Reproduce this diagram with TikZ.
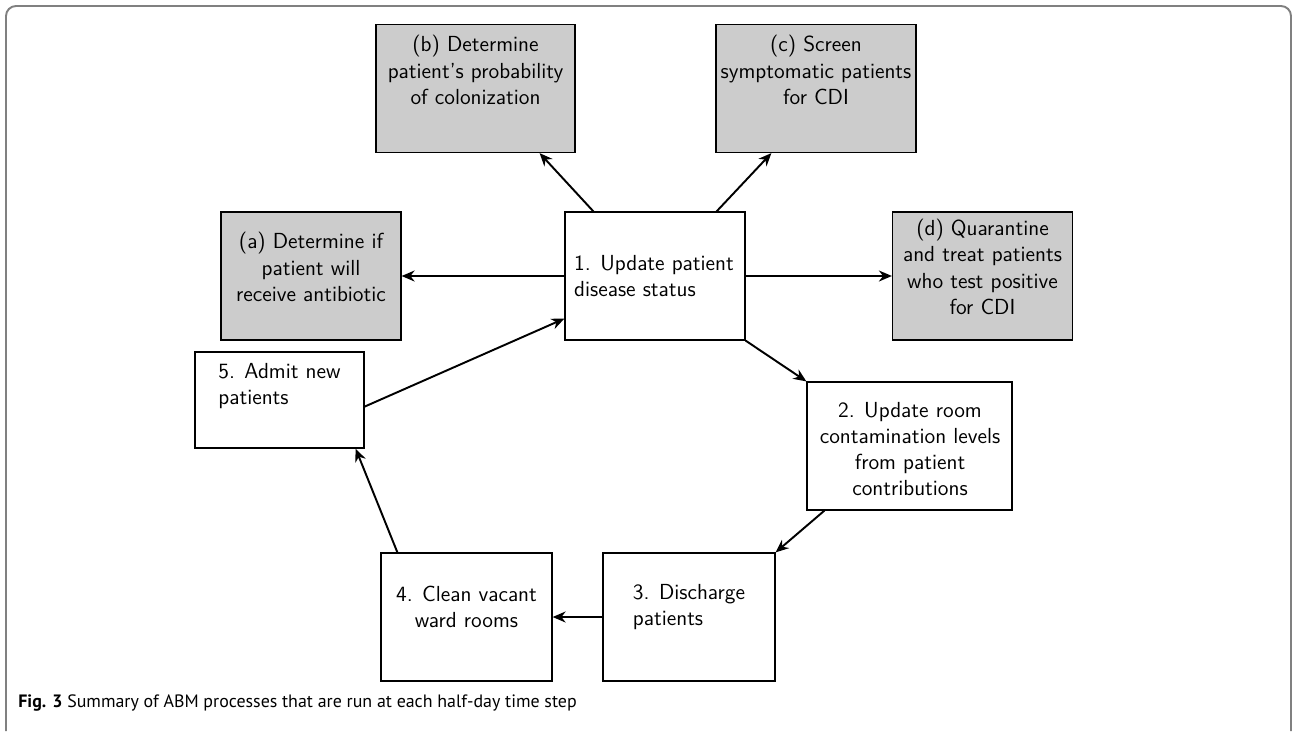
\documentclass[tikz,border=0pt]{standalone}
\usepackage{fontspec}
\usetikzlibrary{calc,arrows.meta}
\newfontfamily\capfont{PT Sans}

\tikzset{
  box/.style={draw,line width=0.7pt,minimum width=180*0.02cm,minimum height=128*0.02cm},
  grey/.style={box,fill=black!20},
  txt/.style={inner sep=0pt,font=\fontsize{12.4}{14.9}\selectfont\sffamily},
  arr/.style={-{Stealth[length=2.6mm,width=2.2mm]},line width=1.1pt}
}

\begin{document}
\begin{tikzpicture}[x=0.02cm,y=-0.02cm]
\useasboundingbox (0,0) rectangle (1292,731);
\draw[gray,line width=1.1pt,rounded corners=0.2cm] (6,731) -- (6,6) -- (1291,6) -- (1291,731);

% boxes
\node[grey,minimum width=199*0.02cm] (b) at (475.5,88.5) {};
\node[grey,minimum width=200*0.02cm] (c) at (816,88.5) {};
\node[grey] (a) at (311,276) {};
\node[box] (one) at (655,276) {};
\node[grey] (d) at (982.5,276) {};
\node[box,minimum width=205*0.02cm] (two) at (909.5,446) {};
\node[box,minimum width=169*0.02cm,minimum height=96*0.02cm] (five) at (279.5,400) {};
\node[box,minimum width=172*0.02cm] (three) at (689,617) {};
\node[box,minimum width=171*0.02cm] (four) at (466.5,617) {};

% texts
\node[txt,align=center] (bt) at (475.5,70) {(b) Determine\\patient's probability\\of colonization};
\node[txt,align=center] (ct) at (816,70) {(c) Screen\\symptomatic patients\\for CDI};
\node[txt,align=center] (at) at (311,267) {(a) Determine if\\patient will\\receive antibiotic};
\node[txt,align=left] (onet) at (654,276) {1. Update patient\\disease status};
\node[txt,align=center] (dt) at (982.5,267) {(d) Quarantine\\and treat patients\\who test positive\\for CDI};
\node[txt,align=center] (twot) at (910,449) {2. Update room\\contamination levels\\from patient\\contributions};
\node[txt,align=left] (fivet) at (279.5,386) {5. Admit new\\patients};
\node[txt,align=left] (threet) at (689,607) {3. Discharge\\patients};
\node[txt,align=center] (fourt) at (466.5,607) {4. Clean vacant\\ward rooms};

% connectors
\draw[arr] (one.west) -- (a.east);
\draw[arr] (one.east) -- (d.east -| d.west);
\draw[arr] ($(one.north west)+(29,0)$) -- ($(b.south east)+(-36,0)$);
\draw[arr] ($(one.north east)+(-29,0)$) -- ($(c.south west)+(56,0)$);
\draw[arr] (one.south east) -- (two.north west);
\draw[arr] ($(two.south west)+(18,0)$) -- (three.north east);
\draw[arr] (three.west) -- (four.east);
\draw[arr] ($(four.north west)+(17,0)$) -- ($(five.south east)+(-9,0)$);
\draw[arr] ($(five.south east)+(0,-42)$) -- ($(one.south west)+(0,-22)$);

% caption
\node[anchor=base west,inner sep=0pt,font=\capfont\fontsize{10.2}{12.2}\selectfont] (cap) at (18,707)
  {\textbf{Fig. 3} Summary of ABM processes that are run at each half-day time step};
\end{tikzpicture}
\end{document}
